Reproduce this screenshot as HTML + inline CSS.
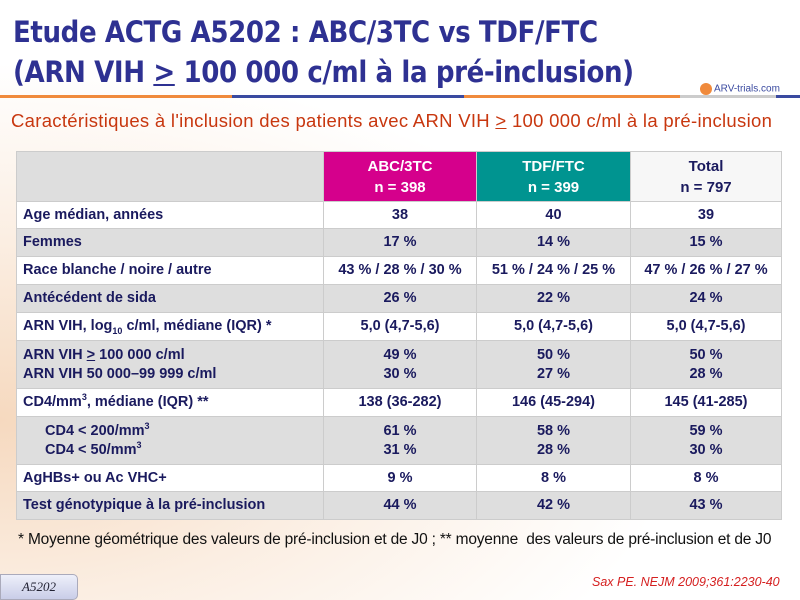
<!DOCTYPE html>
<html><head><meta charset="utf-8"><style>
body{margin:0;width:800px;height:600px;overflow:hidden;position:relative;
background:radial-gradient(ellipse at 0% 70%,#f6d9bf 0%,#fbeee2 30%,#fff 60%),#fff;
font-family:"Liberation Sans",sans-serif;}
.t1{position:absolute;left:13px;top:12px;font-size:29px;font-weight:bold;color:#2e3192;line-height:40px;font-family:"DejaVu Sans Condensed","Liberation Sans",sans-serif;letter-spacing:-0.4px}
.line{position:absolute;top:95px;height:3px;left:0;width:800px;background:linear-gradient(90deg,#f08a3c 0%,#f08a3c 29%,#3a4aa0 29%,#3a4aa0 58%,#f08a3c 58%,#f08a3c 85%,#ccc 85%,#ccc 97%,#3a4aa0 97%)}
.logo{position:absolute;left:700px;top:83px;font-size:10px;color:#3a4aa0}
.logo b{display:inline-block;width:12px;height:12px;border-radius:6px;background:#f08a3c;vertical-align:middle;margin-right:2px}
.sub{position:absolute;left:11px;top:110px;font-size:18.5px;color:#c8370f;font-family:"Liberation Sans",sans-serif;letter-spacing:0.3px;white-space:nowrap}
table{position:absolute;left:16px;top:151px;border-collapse:collapse;width:766px;font-weight:bold;font-size:14.5px;color:#1a1a5e}
td{border:1px solid #ccc;padding:0 6px;line-height:19px;vertical-align:middle}
td:not(:first-child){text-align:center}
sup,sub{line-height:0;font-size:9px}
tr.g td{background:#dedede}tr.w td{background:#fff}
.h td{height:49px;background:#dedede;color:#1a1a5e;font-size:15px;line-height:21px}
.h .a{background:#d5008c;color:#fff}.h .b{background:#009490;color:#fff}.h .c{background:#f7f7f7}
.foot{position:absolute;left:18px;top:531px;font-size:15.5px;color:#111;letter-spacing:-0.2px;white-space:nowrap}
.ref{position:absolute;left:592px;top:575px;font-size:12.5px;font-style:italic;color:#d52020}
.tag{position:absolute;left:0;top:574px;width:76px;height:24px;background:linear-gradient(#eef0fa,#c9cde8);border-radius:0 5px 5px 0;border:1px solid #aab;font-family:"Liberation Serif",serif;font-style:italic;font-size:13px;color:#223;line-height:24px;text-align:center}
</style></head><body>
<div class="t1">Etude ACTG A5202 : ABC/3TC vs TDF/FTC<br>(ARN VIH <u>&gt;</u> 100 000 c/ml à la pré-inclusion)</div>
<div class="line"></div>
<div class="logo"><b></b>ARV-trials.com</div>
<div class="sub">Caractéristiques à l'inclusion des patients avec ARN VIH <u>&gt;</u> 100 000 c/ml à la pré-inclusion</div>
<table>
<tr class="h"><td style="width:294px"></td><td class="a" style="width:140px">ABC/3TC<br>n = 398</td><td class="b" style="width:141px">TDF/FTC<br>n = 399</td><td class="c">Total<br>n = 797</td></tr>
<tr class="w" style="height:27px"><td>Age médian, années</td><td>38</td><td>40</td><td>39</td></tr>
<tr class="g" style="height:28px"><td>Femmes</td><td>17 %</td><td>14 %</td><td>15 %</td></tr>
<tr class="w" style="height:28px"><td>Race blanche / noire / autre</td><td>43 % / 28 % / 30 %</td><td>51 % / 24 % / 25 %</td><td>47 % / 26 % / 27 %</td></tr>
<tr class="g" style="height:28px"><td>Antécédent de sida</td><td>26 %</td><td>22 %</td><td>24 %</td></tr>
<tr class="w" style="height:28px"><td>ARN VIH, log<sub>10</sub> c/ml, médiane (IQR) *</td><td>5,0 (4,7-5,6)</td><td>5,0 (4,7-5,6)</td><td>5,0 (4,7-5,6)</td></tr>
<tr class="g" style="height:48px"><td>ARN VIH <u>&gt;</u> 100 000 c/ml<br>ARN VIH 50 000–99 999 c/ml</td><td>49 %<br>30 %</td><td>50 %<br>27 %</td><td>50 %<br>28 %</td></tr>
<tr class="w" style="height:28px"><td>CD4/mm<sup>3</sup>, médiane (IQR) **</td><td>138 (36-282)</td><td>146 (45-294)</td><td>145 (41-285)</td></tr>
<tr class="g" style="height:48px"><td style="padding-left:28px">CD4 &lt; 200/mm<sup>3</sup><br>CD4 &lt; 50/mm<sup>3</sup></td><td>61 %<br>31 %</td><td>58 %<br>28 %</td><td>59 %<br>30 %</td></tr>
<tr class="w" style="height:27px"><td>AgHBs+ ou Ac VHC+</td><td>9 %</td><td>8 %</td><td>8 %</td></tr>
<tr class="g" style="height:28px"><td>Test génotypique à la pré-inclusion</td><td>44 %</td><td>42 %</td><td>43 %</td></tr>
</table>
<div class="foot">* Moyenne géométrique des valeurs de pré-inclusion et de J0 ; ** moyenne &nbsp;des valeurs de pré-inclusion et de J0</div>
<div class="tag">A5202</div>
<div class="ref">Sax PE. NEJM 2009;361:2230-40</div>
</body></html>
